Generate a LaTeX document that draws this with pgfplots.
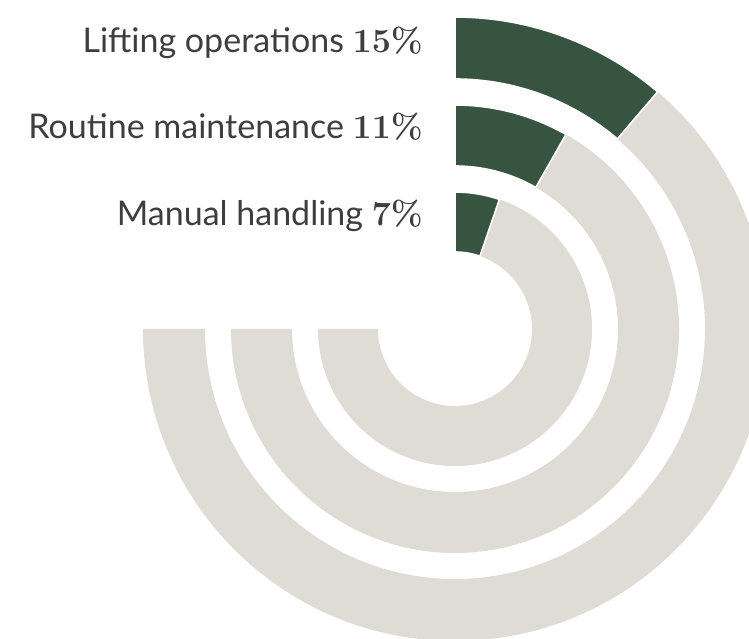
\documentclass[border=0pt]{standalone}
\usepackage{pgfplots}
\pgfplotsset{compat=1.18}
\usepackage{pgfplotstable}
\usepackage{fontspec}
\newfontfamily\labelfont{Lato}
\definecolor{ringgreen}{HTML}{36543F}
\definecolor{ringgray}{HTML}{DEDCD5}
\definecolor{labelgray}{HTML}{3E3E3E}

\pgfplotstableread{
x y value rin rout
455 -329 15 250 312
455 -329 11 163 224
455 -329 7 77 137
}\ringdata

\pgfdeclareplotmark{ringfg}{%
  \pgfmathsetmacro\endang{90-\rval*2.7}%
  \pgfpathmoveto{\pgfpointpolar{90}{\router pt}}%
  \pgfpatharc{90}{\endang}{\router pt}%
  \pgfpathlineto{\pgfpointpolar{\endang}{\rinner pt}}%
  \pgfpatharc{\endang}{90}{\rinner pt}%
  \pgfpathclose
  \pgfsetfillcolor{ringgreen}\pgfsetstrokecolor{white}\pgfsetlinewidth{1.6pt}%
  \pgfusepath{fill,stroke}}

\pgfdeclareplotmark{ringbg}{%
  \pgfmathsetmacro\endang{90-\rval*2.7}%
  \pgfpathmoveto{\pgfpointpolar{\endang}{\router pt}}%
  \pgfpatharc{\endang}{-180}{\router pt}%
  \pgfpathlineto{\pgfpointpolar{-180}{\rinner pt}}%
  \pgfpatharc{-180}{\endang}{\rinner pt}%
  \pgfpathclose
  \pgfsetfillcolor{ringgray}%
  \pgfusepath{fill}}

\begin{document}
\begin{tikzpicture}
\begin{axis}[
  scale only axis, width=749pt, height=639pt,
  xmin=0, xmax=749, ymin=-639, ymax=0,
  hide axis, clip=false,
]
\coordinate (bl) at (rel axis cs:0,0);
\coordinate (tr) at (rel axis cs:1,1);
\addplot[only marks, mark=ringbg,
  visualization depends on={\thisrow{value}\as\rval},
  visualization depends on={\thisrow{rin}\as\rinner},
  visualization depends on={\thisrow{rout}\as\router}]
  table[x=x,y=y] {\ringdata};
\addplot[only marks, mark=ringfg,
  visualization depends on={\thisrow{value}\as\rval},
  visualization depends on={\thisrow{rin}\as\rinner},
  visualization depends on={\thisrow{rout}\as\router}]
  table[x=x,y=y] {\ringdata};
\node[anchor=base east, font=\fontsize{34}{38}\selectfont, text=labelgray, inner sep=0pt]
  at (axis cs:423,-53) {\labelfont Lifting operations {\rmfamily\bfseries 15\%}};
\node[anchor=base east, font=\fontsize{34}{38}\selectfont, text=labelgray, inner sep=0pt]
  at (axis cs:423,-139) {\labelfont Routine maintenance {\rmfamily\bfseries 11\%}};
\node[anchor=base east, font=\fontsize{34}{38}\selectfont, text=labelgray, inner sep=0pt]
  at (axis cs:423,-226) {\labelfont Manual handling {\rmfamily\bfseries 7\%}};
\end{axis}
\pgfresetboundingbox
\path[use as bounding box] (bl) rectangle (tr);
\end{tikzpicture}
\end{document}
